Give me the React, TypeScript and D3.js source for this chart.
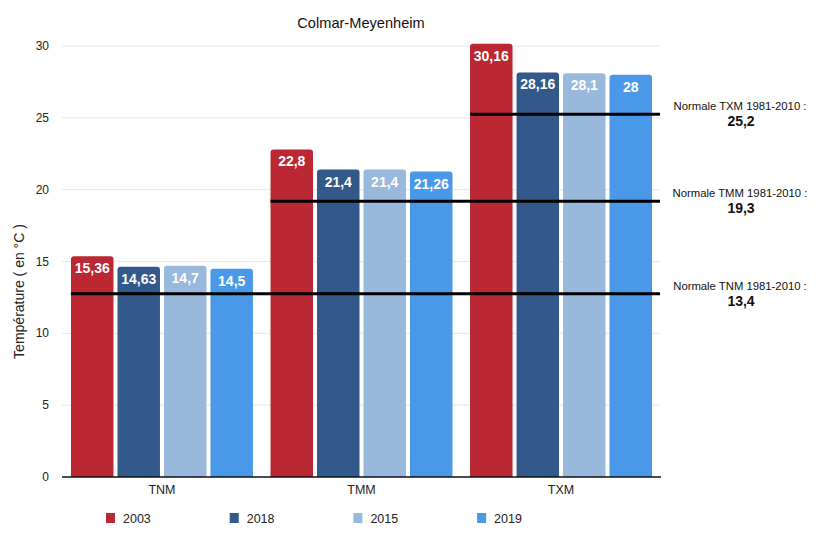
import React from "react";
import * as d3 from "d3";

const categories = ["TNM", "TMM", "TXM"];
const years = ["2003", "2018", "2015", "2019"];
const values2003 = [15.36, 22.8, 30.16];
const values2018 = [14.63, 21.4, 28.16];
const values2015 = [14.7, 21.4, 28.1];
const values2019 = [14.5, 21.26, 28];
const seriesValues = [values2003, values2018, values2015, values2019];
const colors = ["#bb2733", "#33588a", "#98b9db", "#4a99e8"];
const yTicks = [0, 5, 10, 15, 20, 25, 30];
// normal lines as drawn in the picture, and their labels
const normalLineValues = [12.75, 19.2, 25.25];
const normalNames = ["Normale TNM 1981-2010 :", "Normale TMM 1981-2010 :", "Normale TXM 1981-2010 :"];
const normalLabels = ["13,4", "19,3", "25,2"];

const W = 835;
const H = 551;
const left = 62;
const right = 661;
const top = 46;
const bottom = 477;
const font = "'Liberation Sans', Arial, Helvetica, sans-serif";

const fmt = (v: number) => String(v).replace(".", ",");

function topRoundedRect(x: number, y: number, w: number, h: number, r: number) {
  return `M${x},${y + h}V${y + r}Q${x},${y} ${x + r},${y}H${x + w - r}Q${x + w},${y} ${x + w},${y + r}V${y + h}Z`;
}

export default function App() {
  const x0 = d3.scaleBand<string>().domain(categories).range([left, right]).paddingInner(0.088).paddingOuter(0.045);
  const x1 = d3.scaleBand<string>().domain(years).range([0, x0.bandwidth()]).paddingInner(0.086).paddingOuter(0);
  const y = d3.scaleLinear().domain([0, 30]).range([bottom, top]);

  return (
    <svg width={W} height={H} style={{ position: "absolute", left: 0, top: 0, background: "#fff" }} fontFamily={font}>
      <rect width={W} height={H} fill="#fff" />
      <text x={361} y={28} textAnchor="middle" fontSize={14.6} fill="#111">Colmar-Meyenheim</text>
      {yTicks.map((t) => (
        <g key={t}>
          {t > 0 && <line x1={left} x2={right} y1={y(t)} y2={y(t)} stroke="#e6e6e6" strokeWidth={1} />}
          <text x={49} y={y(t) + 4} textAnchor="end" fontSize={12} fill="#222">{t}</text>
        </g>
      ))}
      <text transform={`translate(24,${(top + bottom) / 2 + 30}) rotate(-90)`} textAnchor="middle" fontSize={14} fill="#222">
        Température ( en °C )
      </text>
      {categories.map((c, ci) => (
        <g key={c}>
          {years.map((yr, si) => {
            const v = seriesValues[si][ci];
            const bx = (x0(c) as number) + (x1(yr) as number);
            const bw = x1.bandwidth();
            const by = y(v);
            return (
              <g key={yr}>
                <path d={topRoundedRect(bx, by, bw, bottom - by, 3)} fill={colors[si]} />
                <text x={bx + bw / 2} y={by + 17} textAnchor="middle" fontSize={14} fontWeight="bold" fill="#fff">
                  {fmt(v)}
                </text>
              </g>
            );
          })}
          <text x={(x0(c) as number) + x0.bandwidth() / 2} y={494} textAnchor="middle" fontSize={12.5} fill="#222">{c}</text>
        </g>
      ))}
      <line x1={left} x2={right} y1={bottom} y2={bottom} stroke="#111" strokeWidth={1.3} />
      {categories.map((c, i) => {
        const ly = y(normalLineValues[i]);
        return (
          <g key={"n" + c}>
            <line x1={x0(c) as number} x2={660} y1={ly} y2={ly} stroke="#000" strokeWidth={3} />
            <text x={740} y={ly - 4} textAnchor="middle" fontSize={11.3} fill="#111">{normalNames[i]}</text>
            <text x={741} y={ly + 12} textAnchor="middle" fontSize={14} fontWeight="bold" fill="#111">{normalLabels[i]}</text>
          </g>
        );
      })}
      {years.map((yr, i) => (
        <g key={"l" + yr} transform={`translate(${106 + i * 123.7},513)`}>
          <rect width={9} height={10} fill={colors[i]} />
          <text x={17} y={9.5} fontSize={12.5} fill="#222">{yr}</text>
        </g>
      ))}
    </svg>
  );
}
